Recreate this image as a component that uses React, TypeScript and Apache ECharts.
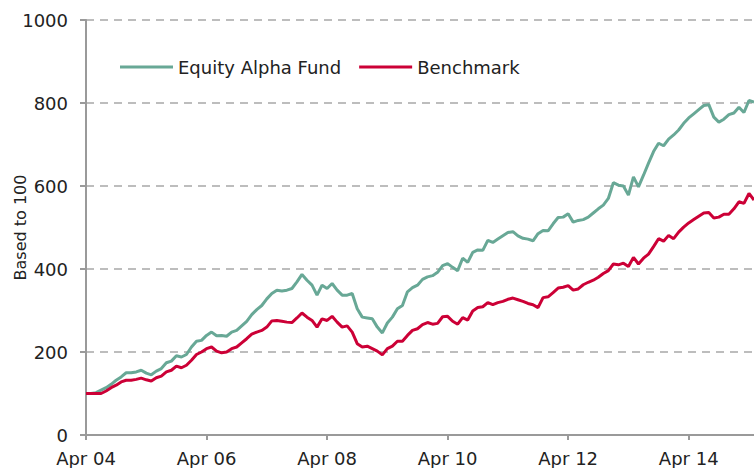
import React, { useEffect, useRef } from "react";
import * as echarts from "echarts";

const START_YEAR = 2004;
const MONTH_NAMES = ["Jan", "Feb", "Mar", "Apr", "May", "Jun", "Jul", "Aug", "Sep", "Oct", "Nov", "Dec"];

const fundValues = [
  100, 100, 102, 108, 114, 122, 132, 140, 150, 150, 152, 156, 149, 145, 154, 160, 174, 178, 191, 188,
  194, 212, 226, 228, 240, 248, 239, 240, 238, 248, 252, 263, 274, 290, 302, 312, 328, 341, 349, 347,
  349, 353, 369, 387, 373, 361, 337, 361, 353, 365, 349, 337, 337, 341, 304, 284, 282, 280, 260, 246,
  270, 284, 304, 312, 345, 355, 361, 375, 381, 384, 392, 408, 413, 404, 396, 426, 416, 440, 446, 445,
  469, 464, 472, 480, 488, 490, 480, 474, 472, 468, 485, 493, 492, 509, 524, 525, 533, 513, 517, 519,
  525, 535, 545, 554, 570, 608, 602, 600, 578, 622, 598, 626, 655, 683, 703, 697, 713, 723, 735, 751,
  764, 774, 784, 794, 796, 766, 754, 761, 772, 776, 790, 777, 806, 802,
];

const benchmarkValues = [
  100, 100, 100, 100, 106, 114, 120, 128, 132, 132, 134, 137, 133, 130, 138, 142, 152, 156, 166, 162,
  168, 180, 194, 200, 208, 212, 202, 198, 200, 208, 212, 222, 232, 243, 248, 252, 260, 275, 276, 274,
  272, 271, 282, 294, 284, 276, 260, 280, 276, 286, 272, 260, 263, 248, 220, 212, 214, 208, 202, 193,
  208, 214, 226, 226, 240, 252, 256, 266, 271, 267, 269, 285, 286, 274, 267, 283, 277, 299, 307, 309,
  319, 314, 319, 322, 327, 330, 326, 322, 317, 314, 307, 331, 333, 343, 354, 356, 360, 349, 352, 362,
  368, 373, 380, 389, 396, 412, 410, 414, 406, 428, 412, 426, 436, 454, 473, 467, 481, 473, 489, 501,
  511, 519, 527, 535, 536, 523, 525, 532, 532, 545, 562, 558, 582, 566,
];

const monthLabels = fundValues.map((_, i) => {
  const m = (3 + i) % 12;
  const y = START_YEAR + Math.floor((3 + i) / 12);
  return `${MONTH_NAMES[m]} ${String(y % 100).padStart(2, "0")}`;
});

const seriesNames = ["Equity Alpha Fund", "Benchmark"];
const seriesColors = ["#68a896", "#cc0036"];

export default function App() {
  const ref = useRef<HTMLDivElement>(null);
  useEffect(() => {
    if (!ref.current) return;
    const chart = echarts.init(ref.current, null, { renderer: "svg" });
    const font = "DejaVu Sans";
    chart.setOption({
      animation: false,
      backgroundColor: "#ffffff",
      textStyle: { fontFamily: font },
      grid: { left: 86, right: 0, top: 20, bottom: 33, containLabel: false, outerBoundsMode: "none" },
      legend: {
        left: 120,
        top: 58,
        padding: 0,
        icon: "rect",
        itemWidth: 53,
        itemHeight: 3,
        itemGap: 18,
        textStyle: { fontFamily: font, fontSize: 18, color: "#222" },
        data: seriesNames,
      },
      xAxis: {
        type: "category",
        data: monthLabels,
        boundaryGap: false,
        axisLine: { lineStyle: { color: "#9a9a9a", width: 2 } },
        axisTick: {
          show: true,
          length: 5,
          interval: (i: number) => i % 24 === 0,
          lineStyle: { color: "#9a9a9a", width: 2 },
        },
        axisLabel: {
          interval: (i: number) => i % 24 === 0,
          fontFamily: font,
          fontSize: 18,
          color: "#222",
          margin: 14,
        },
        splitLine: { show: false },
      },
      yAxis: {
        type: "value",
        min: 0,
        max: 1000,
        interval: 200,
        name: "Based to 100",
        nameLocation: "middle",
        nameGap: 58,
        nameMoveOverlap: false,
        nameTextStyle: { fontFamily: font, fontSize: 16, color: "#222" },
        axisLine: { show: true, lineStyle: { color: "#9a9a9a", width: 2 } },
        axisTick: { show: true, length: 6, lineStyle: { color: "#9a9a9a", width: 2 } },
        axisLabel: {
          fontFamily: font,
          fontSize: 18,
          color: "#222",
          margin: 18,
          formatter: (v: number) => String(v),
        },
        splitLine: {
          show: true,
          lineStyle: { color: "#bdbdbd", width: 2, type: [8, 6] },
        },
      },
      series: [
        {
          name: seriesNames[0],
          type: "line",
          data: fundValues,
          symbol: "none",
          color: seriesColors[0],
          lineStyle: { color: seriesColors[0], width: 3 },
        },
        {
          name: seriesNames[1],
          type: "line",
          data: benchmarkValues,
          symbol: "none",
          color: seriesColors[1],
          lineStyle: { color: seriesColors[1], width: 3 },
        },
      ],
    });
    return () => chart.dispose();
  }, []);
  return (
    <div
      ref={ref}
      style={{ position: "fixed", left: 0, top: 0, width: 754, height: 468, background: "#fff" }}
    />
  );
}
